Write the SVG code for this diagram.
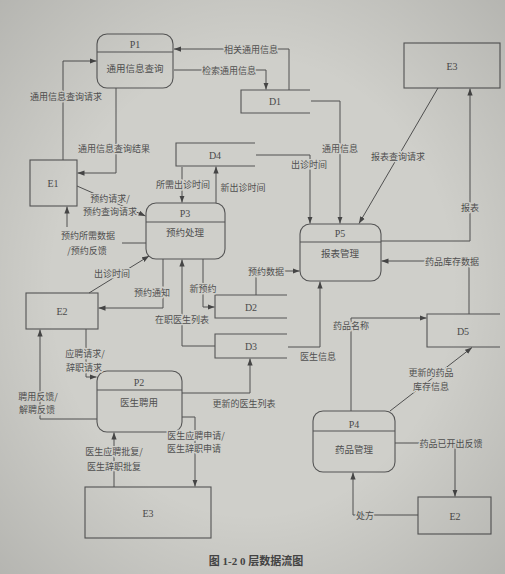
<svg xmlns="http://www.w3.org/2000/svg" width="505" height="574" viewBox="0 0 505 574">
  <defs>
    <marker id="ah" viewBox="0 0 8 6" refX="8" refY="3" markerWidth="7" markerHeight="5.5" orient="auto" markerUnits="userSpaceOnUse">
      <path d="M0,0 L8,3 L0,6 z" fill="#454545"/>
    </marker>
    <radialGradient id="vig" cx="50%" cy="50%" r="72%">
      <stop offset="0.55" stop-color="#000" stop-opacity="0"/>
      <stop offset="1" stop-color="#000" stop-opacity="0.13"/>
    </radialGradient>
    <style>
      .ln { fill: none; stroke: #505050; stroke-width: 1; }
      .ar { marker-end: url(#ah); }
      .box { fill: none; stroke: #555; stroke-width: 1.1; }
      .id { font-family: "Liberation Serif", "Noto Sans CJK SC", serif; font-size: 10px; fill: #4a4a4a; text-anchor: middle; dominant-baseline: central; }
      .nm { font-family: "Noto Sans CJK SC", sans-serif; font-size: 9.5px; fill: #505050; text-anchor: middle; dominant-baseline: central; }
      .lb { font-family: "Noto Sans CJK SC", sans-serif; font-size: 9px; fill: #505050; text-anchor: middle; dominant-baseline: central;
            stroke: #cfcfca; stroke-width: 3; paint-order: stroke; stroke-linejoin: round; }
      .cap { font-family: "Liberation Serif", "Noto Sans CJK SC", serif; font-size: 11px; font-weight: bold; fill: #454545; text-anchor: middle; dominant-baseline: central; }
    </style>
  </defs>

  <!-- paper -->
  <rect x="0" y="0" width="505" height="574" fill="#cfcfca"/>

  <!-- processes -->
  <g id="P1">
    <rect class="box" x="97" y="34" width="76" height="54" rx="10"/>
    <line class="box" x1="97" y1="52" x2="173" y2="52"/>
    <text class="id" x="135" y="44">P1</text>
    <text class="nm" x="135" y="68">通用信息查询</text>
  </g>
  <g id="P3">
    <rect class="box" x="146" y="203" width="79" height="56" rx="10"/>
    <line class="box" x1="146" y1="222" x2="225" y2="222"/>
    <text class="id" x="185" y="213">P3</text>
    <text class="nm" x="185" y="232">预约处理</text>
  </g>
  <g id="P5">
    <rect class="box" x="300" y="224" width="81" height="57" rx="10"/>
    <line class="box" x1="300" y1="242" x2="381" y2="242"/>
    <text class="id" x="340" y="233">P5</text>
    <text class="nm" x="340" y="253">报表管理</text>
  </g>
  <g id="P2">
    <rect class="box" x="97" y="371" width="85" height="61" rx="10"/>
    <line class="box" x1="97" y1="390" x2="182" y2="390"/>
    <text class="id" x="139" y="382">P2</text>
    <text class="nm" x="139" y="402">医生聘用</text>
  </g>
  <g id="P4">
    <rect class="box" x="313" y="411" width="82" height="61" rx="10"/>
    <line class="box" x1="313" y1="431" x2="395" y2="431"/>
    <text class="id" x="354" y="424">P4</text>
    <text class="nm" x="354" y="449">药品管理</text>
  </g>

  <!-- external entities -->
  <g id="E1">
    <rect class="box" x="30" y="160" width="47" height="46"/>
    <text class="id" x="53" y="183">E1</text>
  </g>
  <g id="E2-left">
    <rect class="box" x="26" y="293" width="72" height="36"/>
    <text class="id" x="62" y="311">E2</text>
  </g>
  <g id="E2-right">
    <rect class="box" x="418" y="497" width="73" height="37"/>
    <text class="id" x="455" y="516">E2</text>
  </g>
  <g id="E3-top">
    <rect class="box" x="404" y="43" width="96" height="45"/>
    <text class="id" x="452" y="66">E3</text>
  </g>
  <g id="E3-bottom">
    <rect class="box" x="85" y="487" width="126" height="51"/>
    <text class="id" x="148" y="513">E3</text>
  </g>

  <!-- data stores (open on the right) -->
  <g id="D1">
    <path class="box" d="M310,90 H241 V113 H310"/>
    <text class="id" x="275" y="101">D1</text>
  </g>
  <g id="D4">
    <path class="box" d="M255,143 H176 V166 H255"/>
    <text class="id" x="215" y="155">D4</text>
  </g>
  <g id="D2">
    <path class="box" d="M287,295 H215 V318 H287"/>
    <text class="id" x="251" y="307">D2</text>
  </g>
  <g id="D3">
    <path class="box" d="M287,334 H215 V358 H287"/>
    <text class="id" x="251" y="346">D3</text>
  </g>
  <g id="D5">
    <path class="box" d="M500,314 H427 V347 H500"/>
    <text class="id" x="463" y="331">D5</text>
  </g>

  <!-- data flows -->
  <g id="connectors">
    <path class="ln ar" d="M289,90 V49 H174"/>
    <path class="ln ar" d="M174,70 H266 V89.5"/>
    <path class="ln ar" d="M311,101 H340 V223.5"/>
    <path class="ln ar" d="M438,88 L359,223.5"/>
    <path class="ln ar" d="M381,241 H470 V88.5"/>
    <path class="ln ar" d="M256,155 H310 V223.5"/>
    <path class="ln ar" d="M182,167 V202.5"/>
    <path class="ln ar" d="M216,203 V166.5"/>
    <path class="ln ar" d="M63,160 V61 H96.5"/>
    <path class="ln ar" d="M116,88 V173 H77.5"/>
    <path class="ln ar" d="M77,186 L145.5,216"/>
    <path class="ln" d="M146,243 H122"/>
    <path class="ln ar" d="M67,227 V206.5"/>
    <path class="ln ar" d="M89,293 L149,256"/>
    <path class="ln ar" d="M163,259 V308 H98.5"/>
    <path class="ln ar" d="M203,259 V307 H214.5"/>
    <path class="ln ar" d="M215,346 H182 V259.5"/>
    <path class="ln ar" d="M256,295 V271 H299.5"/>
    <path class="ln ar" d="M288,347 H320 V281.5"/>
    <path class="ln ar" d="M469,314 V261 H381.5"/>
    <path class="ln ar" d="M351,411 V318 H426.5"/>
    <path class="ln ar" d="M390,411 L472,347.5"/>
    <path class="ln ar" d="M395,443 H455 V496.5"/>
    <path class="ln ar" d="M418,515 H353 V472.5"/>
    <path class="ln ar" d="M114,487 V432.5"/>
    <path class="ln ar" d="M182,417 H195 V486.5"/>
    <path class="ln ar" d="M182,393 H250 V358.5"/>
    <path class="ln ar" d="M86,329 V377 H96.5"/>
    <path class="ln ar" d="M97,419 H40 V329.5"/>

    <text class="lb" x="251" y="49">相关通用信息</text>
    <text class="lb" x="229" y="70">检索通用信息</text>
    <text class="lb" x="340" y="148">通用信息</text>
    <text class="lb" x="398" y="156">报表查询请求</text>
    <text class="lb" x="470" y="207">报表</text>
    <text class="lb" x="309" y="164">出诊时间</text>
    <text class="lb" x="183" y="184">所需出诊时间</text>
    <text class="lb" x="243" y="187">新出诊时间</text>
    <text class="lb" x="66" y="96">通用信息查询请求</text>
    <text class="lb" x="114" y="148">通用信息查询结果</text>
    <text class="lb" x="110" y="198">预约请求/</text>
    <text class="lb" x="110" y="211">预约查询请求</text>
    <text class="lb" x="88" y="235">预约所需数据</text>
    <text class="lb" x="87" y="250">/预约反馈</text>
    <text class="lb" x="112" y="273">出诊时间</text>
    <text class="lb" x="152" y="292">预约通知</text>
    <text class="lb" x="203" y="288">新预约</text>
    <text class="lb" x="182" y="319">在职医生列表</text>
    <text class="lb" x="266" y="271">预约数据</text>
    <text class="lb" x="318" y="356">医生信息</text>
    <text class="lb" x="452" y="261">药品库存数据</text>
    <text class="lb" x="351" y="325">药品名称</text>
    <text class="lb" x="431" y="372">更新的药品</text>
    <text class="lb" x="431" y="386">库存信息</text>
    <text class="lb" x="451" y="443">药品已开出反馈</text>
    <text class="lb" x="365" y="515">处方</text>
    <text class="lb" x="114" y="451">医生应聘批复/</text>
    <text class="lb" x="114" y="466">医生辞职批复</text>
    <text class="lb" x="196" y="435">医生应聘申请/</text>
    <text class="lb" x="194" y="448">医生辞职申请</text>
    <text class="lb" x="244" y="403">更新的医生列表</text>
    <text class="lb" x="85" y="353">应聘请求/</text>
    <text class="lb" x="84" y="367">辞职请求</text>
    <text class="lb" x="38" y="396">聘用反馈/</text>
    <text class="lb" x="37" y="409">解聘反馈</text>
  </g>

  <!-- caption -->
  <text class="cap" x="256" y="561">图 1-2 0 层数据流图</text>

  <!-- darker paper edges -->
  <rect x="0" y="0" width="505" height="574" fill="url(#vig)" pointer-events="none"/>
</svg>
